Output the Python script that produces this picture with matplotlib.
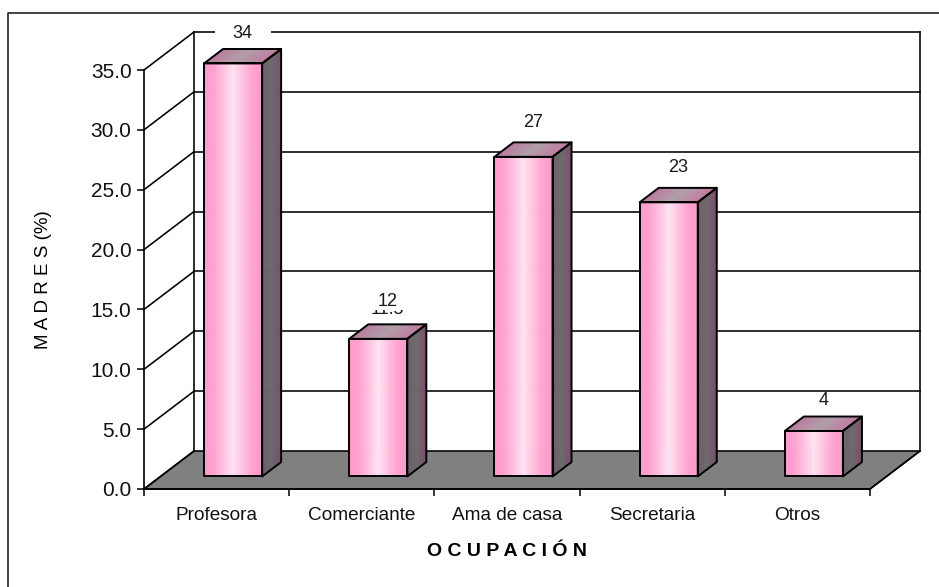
import numpy as np
import matplotlib
matplotlib.use("Agg")
import matplotlib.pyplot as plt
from matplotlib.lines import Line2D
from matplotlib.patches import Polygon, Rectangle
from matplotlib.transforms import IdentityTransform

plt.rcParams['font.family'] = ['Liberation Sans', 'DejaVu Sans']

categorias = ["Profesora", "Comerciante", "Ama de casa", "Secretaria", "Otros"]
valores = [34.5, 11.5, 26.7, 22.9, 3.8]
etiquetas = ["34", "12", "27", "23", "4"]
y_ticks = [0, 5, 10, 15, 20, 25, 30, 35]

# layout, in pixels of the 939x587 picture
W, H = 939, 587
DX, DY = 50, 38      # how far the back wall sits from the front plane
BAR_W = 0.4          # in category units
D0, D1 = 0.33, 0.71  # front and back of the bars, as depth of the floor
gaps = [16, 23, 20, 20, 16]  # label centre above the top of the bar

fig = plt.figure(figsize=(W / 100, H / 100), dpi=100, facecolor="white")
ax = fig.add_axes([144 / W, 1 - 489 / H, 726 / W, 419 / H])
ax.patch.set_visible(False)
ax.set_xlim(-0.5, 4.5)
ax.set_ylim(0, 35)


def pt(x, y, d=0):
    # screen position of a data point pushed back by depth d
    px, py = ax.transData.transform((x, y))
    return px + DX * d, py + DY * d


def poly(points, **kw):
    p = Polygon(points, closed=True, transform=IdentityTransform(), clip_on=False, **kw)
    ax.add_patch(p)


def line(a, b, z=2, lw=1.15):
    ax.add_line(Line2D([a[0], b[0]], [a[1], b[1]], color="black", lw=lw,
                       transform=IdentityTransform(), clip_on=False, zorder=z,
                       solid_capstyle="projecting"))


def ramp(stops, colors, n):
    rgb = np.array([matplotlib.colors.to_rgb(c) for c in colors])
    t = np.linspace(0, 1, n)
    return np.column_stack([np.interp(t, stops, rgb[:, i]) for i in range(3)])


def shaded(a, b, c, e, stops, colors, z, n=40):
    # a-b bottom edge, e-c top edge, colour runs from a to b
    a, b, c, e = map(np.array, (a, b, c, e))
    cols = ramp(stops, colors, n)
    for i in range(n):
        s0, s1 = i / n, (i + 1) / n
        poly([a + (b - a) * s0, a + (b - a) * s1, e + (c - e) * s1, e + (c - e) * s0],
             facecolor=cols[i], edgecolor=cols[i], lw=0.6, zorder=z)
    poly([a, b, c, e], fill=False, edgecolor="black", lw=1.4, zorder=z + 0.1, joinstyle="round")


# floor
poly([pt(-0.5, 0), pt(4.5, 0), pt(4.5, 0, 1), pt(-0.5, 0, 1)],
     facecolor="#808080", edgecolor="black", lw=1.15, zorder=1)

# walls and gridlines
line(pt(-0.5, 0, 1), pt(-0.5, 35, 1))
line(pt(4.5, 0, 1), pt(4.5, 35, 1))
for v in y_ticks:
    line(pt(-0.5, v), pt(-0.5, v, 1))
    if v > 0:
        line(pt(-0.5, v, 1), pt(4.5, v, 1))
line(pt(4.5, 0), pt(4.5, 0, 1))

# bars and their labels
for i in range(len(categorias)):
    x0, x1 = i - BAR_W / 2, i + BAR_W / 2
    v = valores[i]
    cx, top = pt(i, v, (D0 + D1) / 2)
    top = pt(i, v, D1)[1]
    ly = top + gaps[i]

    # white label box, it cuts the gridline behind it
    ax.add_patch(Rectangle((cx - 28, ly - 9), 56, 18, facecolor="white", edgecolor="none",
                           transform=IdentityTransform(), clip_on=False, zorder=3))
    ax.text(cx, ly, etiquetas[i], transform=IdentityTransform(), ha="center", va="center",
            fontsize=13, color="#1a1a1a", zorder=4, clip_on=False)

    shaded(pt(x0, 0, D0), pt(x1, 0, D0), pt(x1, v, D0), pt(x0, v, D0),
           [0, 0.18, 0.5, 0.82, 1], ["#ff99cc", "#ffa6d2", "#ffe3f1", "#ffa6d2", "#ff99cc"], 5)
    shaded(pt(x1, 0, D0), pt(x1, 0, D1), pt(x1, v, D1), pt(x1, v, D0),
           [0, 0.5, 1], ["#6f5c68", "#6b6b6b", "#7c4f6c"], 5, n=14)
    shaded(pt(x0, v, D0), pt(x1, v, D0), pt(x1, v, D1), pt(x0, v, D1),
           [0, 0.5, 1], ["#bb7a9e", "#b0a0a8", "#c27ea2"], 5)

# the old value that sticks out under the label of Comerciante
cx2 = pt(1, valores[1], (D0 + D1) / 2)[0]
ax.text(cx2, pt(1, valores[1], D1)[1] + 15, "11.5", transform=IdentityTransform(), ha="center",
        va="center", fontsize=13, color="#1a1a1a", zorder=2.9, clip_on=False)

# axes
for s in ["top", "right"]:
    ax.spines[s].set_visible(False)
for s in ["left", "bottom"]:
    ax.spines[s].set_linewidth(1.2)
ax.set_yticks(y_ticks)
ax.set_yticklabels(["%.1f" % v for v in y_ticks], fontsize=15, color="#111111")
ax.set_xticks(np.arange(-0.5, 5))
ax.set_xticklabels([])
ax.set_xticks(np.arange(5), categorias, minor=True, fontsize=13.7, color="#111111")
ax.tick_params(axis="y", length=5, width=1.1, pad=4)
ax.tick_params(axis="x", which="major", length=5, width=1.1)
ax.tick_params(axis="x", which="minor", length=0, pad=13)
ax.set_xlabel("O C U P A C I Ó N", fontsize=14, fontweight="bold", labelpad=14, x=0.5)
ax.set_ylabel("M A D R E S (%)", fontsize=13.5, labelpad=28)

# outer frame, only top and left fall inside the picture
fig.add_artist(Line2D([7.5 / W, 7.5 / W, 1], [0, 1 - 12.5 / H, 1 - 12.5 / H], color="#111111", lw=1.1))

fig.savefig("out.png", dpi=100)
